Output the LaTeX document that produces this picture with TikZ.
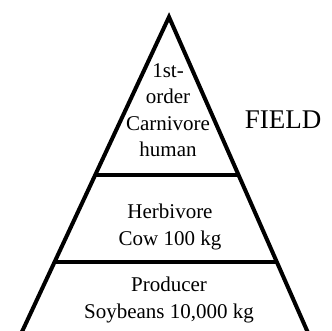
\documentclass[tikz,border=0pt]{standalone}
\usepackage{fontspec}
\setmainfont{Liberation Serif}
\usepackage{tikz}
\usetikzlibrary{calc}

\begin{document}
\begin{tikzpicture}[
  x=1pt, y=1pt,
  edge/.style={line width=4pt, line join=miter},
  lbl/.style={font=\fontsize{21}{26.5}\selectfont, align=center, inner sep=0pt},
  big/.style={font=\fontsize{27}{30}\selectfont, inner sep=0pt}
]
\useasboundingbox (0,0) rectangle (332,331);
\clip (0,0) rectangle (332,331);
% pyramid outline
\coordinate (apex) at (169,314);
\coordinate (bl) at (13,-20);
\coordinate (br) at (316,-20);
\coordinate (l1) at ($(apex)!0.473!(bl)$);
\coordinate (r1) at ($(apex)!0.473!(br)$);
\coordinate (l2) at ($(apex)!0.734!(bl)$);
\coordinate (r2) at ($(apex)!0.734!(br)$);
\draw[edge] (bl) -- (apex) -- (br);
\draw[edge] (l1) -- (r1);
\draw[edge] (l2) -- (r2);
% labels
\node[lbl] (carn) at (168,221) {1st-\\order\\Carnivore\\human};
\node[lbl] (herb) at (170,104) {Herbivore\\Cow 100 kg};
\node[lbl] (prod) at (169,31) {Producer\\Soybeans 10,000 kg};
\node[big, anchor=base] (field) at (283,202) {FIELD};
\end{tikzpicture}
\end{document}
